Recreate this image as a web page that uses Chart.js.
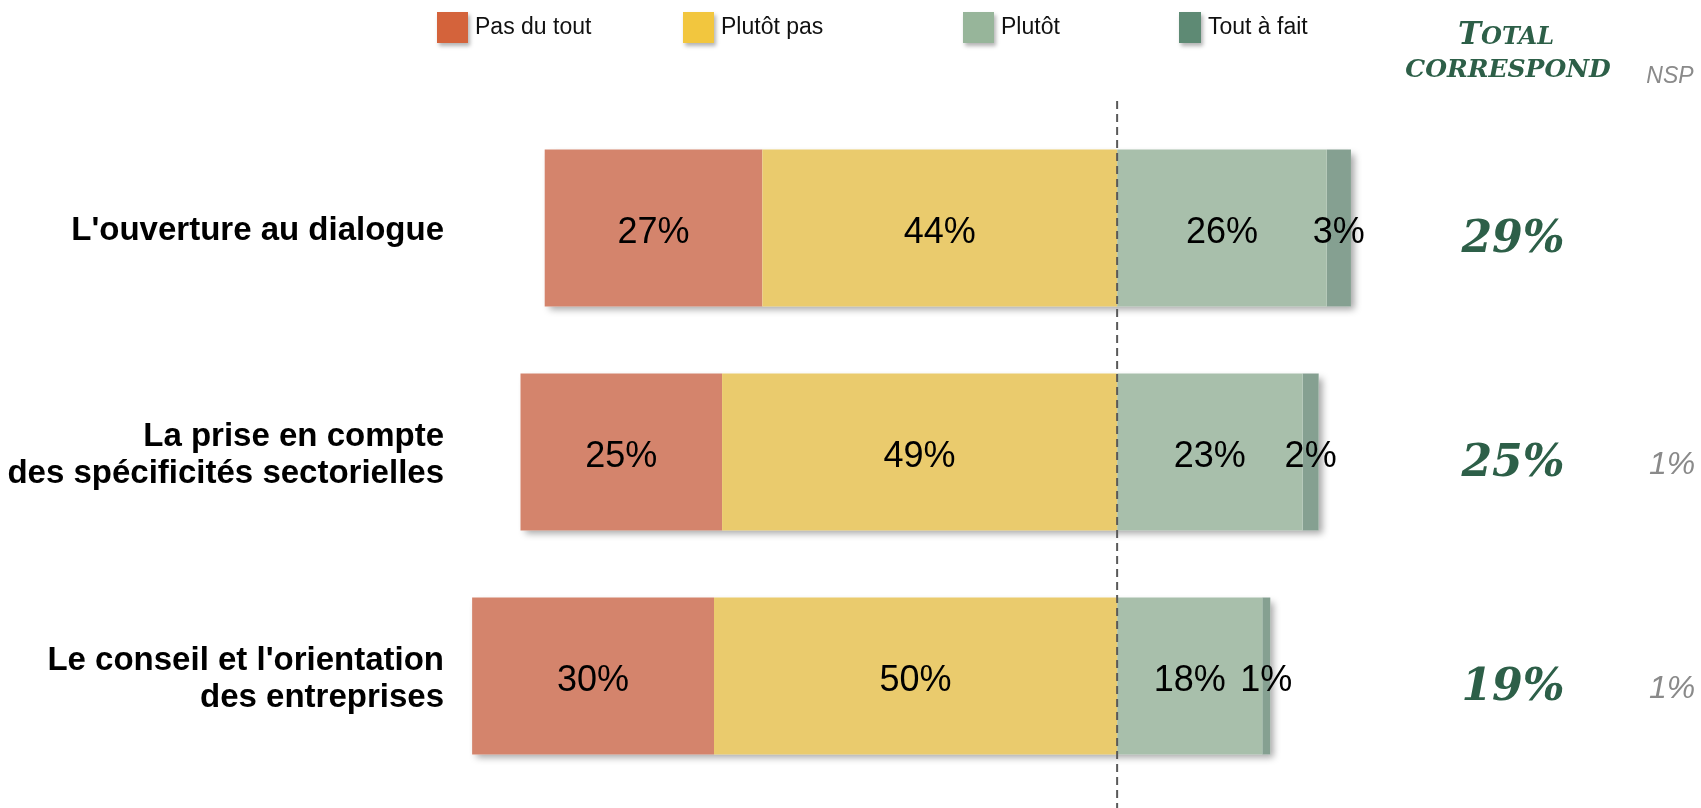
<!DOCTYPE html>
<html>
<head>
<meta charset="utf-8">
<script src="https://cdn.jsdelivr.net/npm/chart.js@4.4.1/dist/chart.umd.min.js"></script>
<style>
  body { margin: 0; background: #fff; }
  canvas { display: block; }
</style>
</head>
<body>
<canvas id="myChart" width="1701" height="808"></canvas>
<script>
// data
const categories = [
  ["L'ouverture au dialogue"],
  ["La prise en compte", "des spécificités sectorielles"],
  ["Le conseil et l'orientation", "des entreprises"],
];
const seriesNames = ["Pas du tout", "Plutôt pas", "Plutôt", "Tout à fait"];
const pasDuTout = [27, 25, 30];
const plutotPas = [44, 49, 50];
const plutot = [26, 23, 18];
const toutAFait = [3, 2, 1];
const totalCorrespond = [29, 25, 19];
const nsp = [null, 1, 1];

// colours: bars are paler than the legend squares
const barColors = ["#D4846C", "#EACB6D", "#A8BFAB", "#85A091"];
const legendColors = ["#D4633B", "#F2C63E", "#97B59A", "#5E8A74"];
const green = "#2D5F48";

// shadow behind each whole bar
const barShadow = {
  id: "barShadow",
  beforeDatasetsDraw(chart) {
    const c = chart.ctx;
    const metas = chart.getSortedVisibleDatasetMetas();
    categories.forEach((cat, i) => {
      let left = Infinity, right = -Infinity, top = 0, h = 0;
      metas.forEach((m) => {
        const el = m.data[i];
        left = Math.min(left, el.x, el.base);
        right = Math.max(right, el.x, el.base);
        top = el.y - el.height / 2;
        h = el.height;
      });
      c.save();
      c.shadowColor = "rgba(0,0,0,0.35)";
      c.shadowBlur = 7;
      c.shadowOffsetX = 4;
      c.shadowOffsetY = 4;
      c.fillStyle = "#fff";
      c.fillRect(left, top, right - left, h);
      c.restore();
    });
  },
};

// dashed centre line + percentage labels inside the bars
const barLabels = {
  id: "barLabels",
  afterDatasetsDraw(chart) {
    const c = chart.ctx;
    const x0 = chart.scales.x.getPixelForValue(0);
    c.save();
    c.strokeStyle = "#595959";
    c.lineWidth = 2;
    c.setLineDash([8, 5]);
    c.beginPath();
    c.moveTo(x0, 101);
    c.lineTo(x0, 808);
    c.stroke();
    c.restore();

    c.save();
    c.font = "36px 'Liberation Sans'";
    c.fillStyle = "#000";
    c.textAlign = "center";
    c.textBaseline = "middle";
    chart.data.datasets.forEach((ds, d) => {
      const meta = chart.getDatasetMeta(d);
      meta.data.forEach((el, i) => {
        const v = Math.abs(ds.data[i]);
        if (!v) return;
        c.fillText(v + "%", (el.x + el.base) / 2, el.y + 5);
      });
    });
    c.restore();
  },
};

// category names, legend, total and NSP columns
const sideText = {
  id: "sideText",
  afterDraw(chart) {
    const c = chart.ctx;
    const y = chart.scales.y;
    c.save();

    // category names
    c.font = "bold 33px 'Liberation Sans'";
    c.fillStyle = "#000";
    c.textAlign = "right";
    c.textBaseline = "alphabetic";
    categories.forEach((lines, i) => {
      const yc = y.getPixelForValue(i);
      lines.forEach((t, j) => {
        c.fillText(t, 444, yc + 12 + (j - (lines.length - 1) / 2) * 37);
      });
    });

    // legend
    const boxX = [437, 683, 963, 1179];
    const boxW = [31, 31, 31, 22];
    c.textAlign = "left";
    c.font = "23px 'Liberation Sans'";
    seriesNames.forEach((name, i) => {
      c.save();
      c.shadowColor = "rgba(0,0,0,0.3)";
      c.shadowBlur = 4;
      c.shadowOffsetX = 2;
      c.shadowOffsetY = 3;
      c.fillStyle = legendColors[i];
      c.fillRect(boxX[i], 12, boxW[i], 31);
      c.restore();
      c.fillStyle = "#111";
      c.fillText(name, boxX[i] + boxW[i] + 7, 34);
    });

    // TOTAL CORRESPOND header
    c.fillStyle = green;
    c.font = "italic bold 31px 'DejaVu Serif'";
    const wT = c.measureText("T").width;
    c.font = "italic bold 24px 'DejaVu Serif'";
    const wRest = c.measureText("OTAL").width;
    let hx = 1506 - (wT + wRest) / 2;
    c.font = "italic bold 31px 'DejaVu Serif'";
    c.fillText("T", hx, 44);
    c.font = "italic bold 24px 'DejaVu Serif'";
    c.fillText("OTAL", hx + wT, 44);
    c.textAlign = "center";
    c.font = "italic bold 25px 'DejaVu Serif'";
    c.fillText("CORRESPOND", 1508, 77);

    c.fillStyle = "#8a8a8a";
    c.font = "italic 23px 'Liberation Sans'";
    c.fillText("NSP", 1670, 83);

    // totals and NSP values
    totalCorrespond.forEach((v, i) => {
      const yc = y.getPixelForValue(i);
      c.fillStyle = green;
      c.font = "italic bold 44px 'DejaVu Serif'";
      c.fillText(v + "%", 1513, yc + 24);
      if (nsp[i] != null) {
        c.fillStyle = "#8a8a8a";
        c.font = "italic 32px 'Liberation Sans'";
        c.fillText(nsp[i] + "%", 1672, yc + 22);
      }
    });
    c.restore();
  },
};

// stacking order: the yellow part sits next to the centre line, red further out
const ctx = document.getElementById("myChart").getContext("2d");
const myChart = new Chart(ctx, {
  type: "bar",
  data: {
    labels: categories,
    datasets: [
      { label: seriesNames[1], data: plutotPas.map((v) => -v), backgroundColor: barColors[1] },
      { label: seriesNames[0], data: pasDuTout.map((v) => -v), backgroundColor: barColors[0] },
      { label: seriesNames[2], data: plutot, backgroundColor: barColors[2] },
      { label: seriesNames[3], data: toutAFait, backgroundColor: barColors[3] },
    ],
  },
  options: {
    indexAxis: "y",
    responsive: false,
    animation: false,
    layout: { padding: { left: 456, right: 342, top: 116, bottom: 20 } },
    datasets: {
      bar: { barPercentage: 0.7, categoryPercentage: 1, borderWidth: 0 },
    },
    scales: {
      x: { stacked: true, min: -82, max: 30, display: false },
      y: { stacked: true, display: false },
    },
    plugins: {
      legend: { display: false },
      tooltip: { enabled: false },
    },
  },
  plugins: [barShadow, barLabels, sideText],
});
</script>
</body>
</html>
